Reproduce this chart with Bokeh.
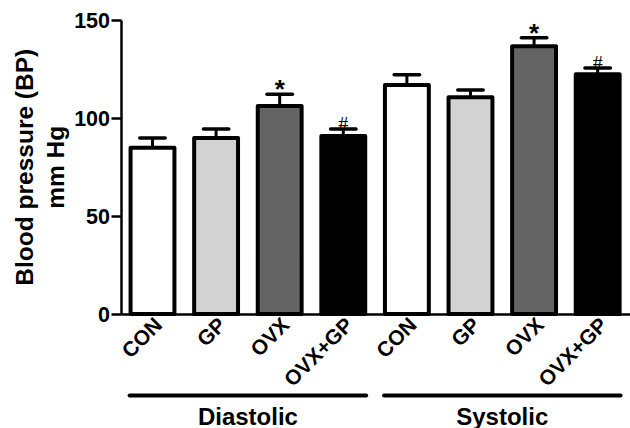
import math
from bokeh.plotting import figure
from bokeh.models import ColumnDataSource, Range1d, FixedTicker
from bokeh.core.properties import value
from bokeh.embed import file_html
from bokeh.resources import INLINE

# ---- data ----
treatments = ["CON", "GP", "OVX", "OVX+GP"]
groups = ["Diastolic", "Systolic"]
diastolic = [85.0, 90.0, 106.3, 91.0]
diastolic_sem = [5.0, 4.5, 6.0, 3.6]
systolic = [117.0, 110.8, 136.8, 122.5]
systolic_sem = [5.2, 3.7, 4.4, 3.2]
diastolic_marks = ["", "", "*", "#"]
systolic_marks = ["", "", "*", "#"]
y_ticks = [0, 50, 100, 150]
y_title = ["Blood pressure (BP)", "mm Hg"]

# ---- styles ----
fills = ["#ffffff", "#d2d2d2", "#646464", "#000000"]
FONT = "Liberation Sans"

# ---- build sources ----
values = diastolic + systolic
sems = diastolic_sem + systolic_sem
marks = diastolic_marks + systolic_marks
labels = treatments * len(groups)
xs = list(range(len(values)))
uppers = [v + s for v, s in zip(values, sems)]
src = ColumnDataSource(dict(x=xs, top=values, upper=uppers, fill=fills * len(groups)))

W, H = 630, 428
x_start, x_end = -2.39, 7.516
y_start, y_end = -58.5, 160.2
axis_x = -0.495           # where the value axis stands

p = figure(width=W, height=H, output_backend="svg", toolbar_location=None,
           x_range=Range1d(x_start, x_end), y_range=Range1d(y_start, y_end),
           min_border_left=0, min_border_right=0, min_border_top=0,
           min_border_bottom=0)
p.outline_line_color = None
p.grid.visible = False
p.background_fill_color = "white"
p.border_fill_color = "white"

# bars
p.vbar(x="x", top="top", bottom=0, width=0.69, source=src, fill_color="fill",
       line_color="black", line_width=4, line_join="round")
# error bars (upper only)
p.segment(x0="x", y0="top", x1="x", y1="upper", source=src, line_color="black",
          line_width=3)
cap = 0.2
p.segment(x0=[x - cap for x in xs], y0=uppers, x1=[x + cap for x in xs], y1=uppers,
          line_color="black", line_width=3.5, line_cap="round")

# significance marks
star_x = [x for x, m in zip(xs, marks) if m == "*"]
star_y = [u for u, m in zip(uppers, marks) if m == "*"]
hash_x = [x for x, m in zip(xs, marks) if m == "#"]
hash_y = [u for u, m in zip(uppers, marks) if m == "#"]
p.text(x=star_x, y=star_y, text=["*"] * len(star_x), text_align="center",
       text_baseline="alphabetic", y_offset=-5, text_font=value(FONT),
       text_font_style="bold", text_font_size="26px", text_color="black")
p.text(x=hash_x, y=hash_y, text=["#"] * len(hash_x), text_align="center",
       text_baseline="alphabetic", y_offset=-5, text_font=value("Liberation Serif"),
       text_font_size="20px", text_color="black")

# group lines and labels
n = len(treatments)
line_y = -41.6
for gi, g in enumerate(groups):
    first, last = gi * n, gi * n + n - 1
    p.segment(x0=[first - 0.36], y0=[line_y], x1=[last + 0.36], y1=[line_y],
              line_color="black", line_width=4, line_cap="round")
    p.text(x=[(first + last) / 2], y=[-52.3], text=[g], text_align="center",
           text_baseline="alphabetic", text_font=value(FONT),
           text_font_style="bold", text_font_size="24px", text_color="black")

# y-axis title (two lines), centred on the 0-150 span
p.text(x=[-2.013, -1.525], y=[75, 75], text=y_title, angle=math.pi / 2,
       text_align="center", text_baseline="middle", text_font=value(FONT),
       text_font_style="bold", text_font_size="24.5px", text_color="black")

# axes
p.yaxis.fixed_location = axis_x
p.yaxis.ticker = FixedTicker(ticks=y_ticks)
p.yaxis.bounds = (0, 150)
p.yaxis.axis_line_width = 2.5
p.yaxis.major_tick_line_width = 2.5
p.yaxis.major_tick_out = 10
p.yaxis.major_tick_in = 0
p.yaxis.minor_tick_line_color = None
p.yaxis.major_label_standoff = 1
p.yaxis.major_label_text_font = FONT
p.yaxis.major_label_text_font_style = "bold"
p.yaxis.major_label_text_font_size = "21.5px"
p.yaxis.major_label_text_color = "black"

label_ticks = [round(x + 0.09, 2) for x in xs]
p.xaxis.fixed_location = 0
p.xaxis.bounds = (axis_x, x_end)
p.xaxis.ticker = FixedTicker(ticks=label_ticks)
p.xaxis.major_label_overrides = {t: l for t, l in zip(label_ticks, labels)}
p.xaxis.major_label_orientation = math.pi / 4
p.xaxis.axis_line_width = 2.5
p.xaxis.major_tick_line_color = None
p.xaxis.minor_tick_line_color = None
p.xaxis.major_label_standoff = 1
p.xaxis.major_label_text_font = FONT
p.xaxis.major_label_text_font_style = "bold"
p.xaxis.major_label_text_font_size = "21px"
p.xaxis.major_label_text_color = "black"

open("out.html", "w").write(file_html(p, INLINE))
